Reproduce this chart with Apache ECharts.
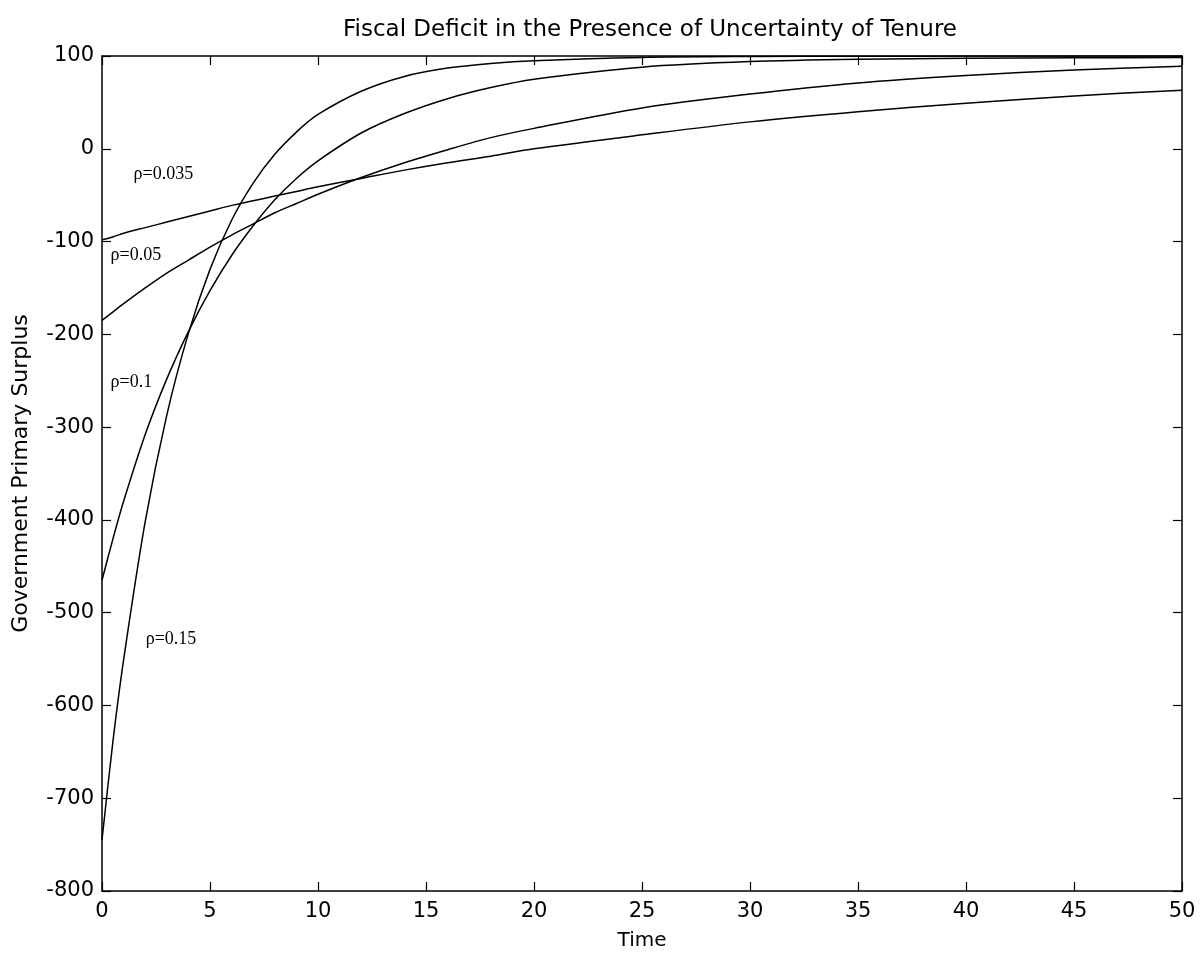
<!DOCTYPE html>
<html>
<head>
<meta charset="utf-8">
<script src="https://cdn.jsdelivr.net/npm/echarts@6/dist/echarts.min.js"></script>
<style>html,body{margin:0;padding:0;background:#fff}#c{width:1202px;height:956px}</style>
</head>
<body>
<div id="c"></div>
<script>
const time = [0, 0.5, 1, 2, 3, 4, 5, 6, 7, 8, 9, 10, 12, 14, 16, 18, 20, 25, 30, 35, 40, 45, 50];

// Government primary surplus for each rho
const rho0035 = [-98, -95, -91, -85, -79, -73, -67, -61, -56, -51, -46, -41, -32, -23, -15, -8, 0, 15, 29, 40, 49, 57, 63];
const rho005  = [-185, -176, -167, -150, -134, -120, -106, -93, -81, -69, -59, -49, -31, -15, -1, 12, 22, 44, 59, 71, 79, 85, 89];
const rho01   = [-465, -421, -380, -308, -248, -197, -153, -115, -83, -55, -32, -13, 17, 38, 54, 66, 75, 88, 94, 96.5, 97.5, 98, 98.5];
const rho015  = [-745, -640, -551, -402, -287, -199, -130, -77, -37, -6, 18, 37, 62, 78, 87, 92, 95, 98.5, 99.5, 99.8, 99.9, 100, 100];

const seriesNames = ['ρ=0.035', 'ρ=0.05', 'ρ=0.1', 'ρ=0.15'];
const seriesValues = [rho0035, rho005, rho01, rho015];

const xTicks = [0, 5, 10, 15, 20, 25, 30, 35, 40, 45, 50];
const yTicks = [-800, -700, -600, -500, -400, -300, -200, -100, 0, 100];

// label anchor points (data coords) for the in-plot curve labels
const labelAnchors = [[1.44, -28], [0.37, -115], [0.37, -252], [2.0, -529]];

const chart = echarts.init(document.getElementById('c'), null, {renderer: 'canvas'});

const sans = 'DejaVu Sans, Liberation Sans, Arial, sans-serif';
const axisFont = {fontFamily: sans, fontSize: 21, color: '#000'};
const lineCfg = {show: true, onZero: false, lineStyle: {color: '#000', width: 1.5}};
const tickCfg = {show: true, inside: true, length: 9, lineStyle: {color: '#000', width: 1.2}};

const series = seriesValues.map((vals, i) => ({
  type: 'line',
  name: seriesNames[i],
  data: time.map((t, j) => [t, vals[j]]),
  showSymbol: false,
  smooth: 0.3,
  lineStyle: {color: '#000', width: 1.5},
  itemStyle: {color: '#000'},
  silent: true,
  animation: false,
  markPoint: {
    symbol: 'circle',
    symbolSize: 1,
    itemStyle: {color: 'rgba(0,0,0,0)'},
    label: {
      show: true, position: 'right', distance: 0,
      formatter: seriesNames[i],
      fontFamily: 'Liberation Serif, Times New Roman, serif',
      fontSize: 18, color: '#000'
    },
    data: [{coord: labelAnchors[i]}],
    animation: false
  }
}));

chart.setOption({
  animation: false,
  backgroundColor: '#fff',
  title: {
    text: 'Fiscal Deficit in the Presence of Uncertainty of Tenure',
    left: 645, textAlign: 'center', top: 14,
    textStyle: {fontFamily: sans, fontSize: 23, fontWeight: 'normal', color: '#000'}
  },
  grid: {left: 102, right: 20, top: 56, bottom: 65},
  xAxis: [{
    type: 'value', min: 0, max: 50, interval: 5, position: 'bottom',
    name: 'Time', nameLocation: 'middle', nameGap: 40,
    nameTextStyle: {fontFamily: sans, fontSize: 20, color: '#000'},
    axisLine: lineCfg, axisTick: tickCfg,
    axisLabel: Object.assign({margin: 10, formatter: v => xTicks.includes(v) ? String(v) : ''}, axisFont),
    splitLine: {show: false}
  }, {
    type: 'value', min: 0, max: 50, interval: 5, position: 'top',
    axisLine: lineCfg, axisTick: tickCfg,
    axisLabel: {show: false}, splitLine: {show: false}
  }],
  yAxis: [{
    type: 'value', min: -800, max: 100, interval: 100, position: 'left',
    name: 'Government Primary Surplus', nameLocation: 'middle', nameGap: 70,
    nameTextStyle: {fontFamily: sans, fontSize: 22, color: '#000'},
    axisLine: lineCfg, axisTick: tickCfg,
    axisLabel: Object.assign({margin: 8, formatter: v => yTicks.includes(v) ? String(v) : ''}, axisFont),
    splitLine: {show: false}
  }, {
    type: 'value', min: -800, max: 100, interval: 100, position: 'right',
    axisLine: lineCfg, axisTick: tickCfg,
    axisLabel: {show: false}, splitLine: {show: false}
  }],
  series: series
});
</script>
</body>
</html>
